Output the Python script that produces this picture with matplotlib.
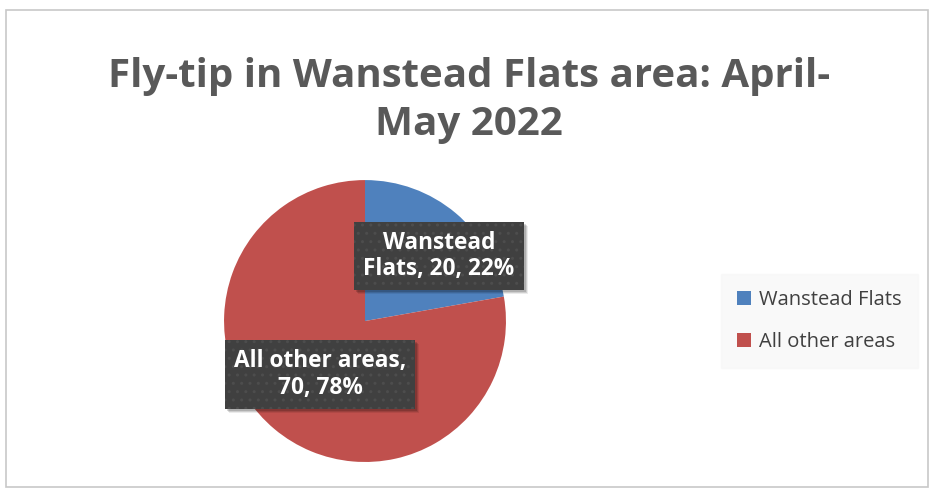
import matplotlib
matplotlib.use("Agg")
import matplotlib.pyplot as plt
from matplotlib.patches import Rectangle

categories = ["Wanstead Flats", "All other areas"]
values = [20, 70]
percent_labels = ["22%", "78%"]
colors = ["#4f81bd", "#c0504d"]
title = "Fly-tip in Wanstead Flats area: April-\nMay 2022"
FONT = ["Open Sans", "DejaVu Sans"]

fig = plt.figure(figsize=(9.34, 4.92), dpi=100)
fig.patches.append(Rectangle((6/934, 5/492), 922/934, 477/492, transform=fig.transFigure,
                             fill=False, edgecolor="#c8c8c8", linewidth=1.2))

fig.text(0.502, 0.795, title, ha="center", va="center", fontsize=29, fontweight="bold",
         color="#595959", family=FONT, linespacing=1.3)

ax = fig.add_axes([0.2398, 0.061, 0.302, 0.573])
wedges, _ = ax.pie(values, colors=colors, startangle=90, counterclock=False, radius=1)
ax.set_xlim(-1, 1)
ax.set_ylim(-1, 1)
ax.set_aspect("equal")
ax.axis("off")

label_pos = [(0.525, 0.461), (-0.319, -0.379)]
label_texts = [f"{categories[0].split()[0]}\n{categories[0].split()[1]}, {values[0]}, {percent_labels[0]}",
               f"{categories[1]},\n{values[1]}, {percent_labels[1]}"]
label_objs = []
for (x, y), t in zip(label_pos, label_texts):
    txt = ax.text(x, y, t, ha="center", va="center", fontsize=16.3, fontweight="bold",
                  color="white", family=FONT, linespacing=1.15, zorder=5,
                  bbox=dict(boxstyle="square,pad=0.4", facecolor="#404040",
                            edgecolor="#4d4d4d", linewidth=0, hatch=".."))
    label_objs.append(txt)

leg = fig.legend(wedges, categories, loc="center", bbox_to_anchor=(819.5/934, (492-321)/492),
                 frameon=True, prop={"family": FONT, "size": 14.5},
                 handlelength=0.7, handleheight=0.7, labelspacing=1.1, borderpad=0.8,
                 handletextpad=0.4, fancybox=False, borderaxespad=0)
leg.get_frame().set_facecolor("#f8f8f8")
leg.get_frame().set_edgecolor("#f8f8f8")
for t in leg.get_texts():
    t.set_color("#404040")

# soft drop shadows behind the label boxes
fig.canvas.draw()
renderer = fig.canvas.get_renderer()
inv = fig.transFigure.inverted()
for txt in label_objs:
    bb = txt.get_bbox_patch().get_window_extent(renderer)
    for k, a in [(4, 0.08), (3, 0.12), (2, 0.15)]:
        (x0, y0) = inv.transform((bb.x0 + k, bb.y0 - k))
        (x1, y1) = inv.transform((bb.x1 + k, bb.y1 - k))
        fig.patches.append(Rectangle((x0, y0), x1 - x0, y1 - y0, transform=fig.transFigure,
                                     facecolor="black", alpha=a, linewidth=0, zorder=1))
    # place shadows above pie but beneath labels: draw into axes instead
for p in list(fig.patches[1:]):
    fig.patches.remove(p)
    p.set_transform(fig.transFigure)
    p.set_clip_on(False)
    ax.add_artist(p)
    p.set_zorder(4)

fig.savefig("out.png", dpi=100)
